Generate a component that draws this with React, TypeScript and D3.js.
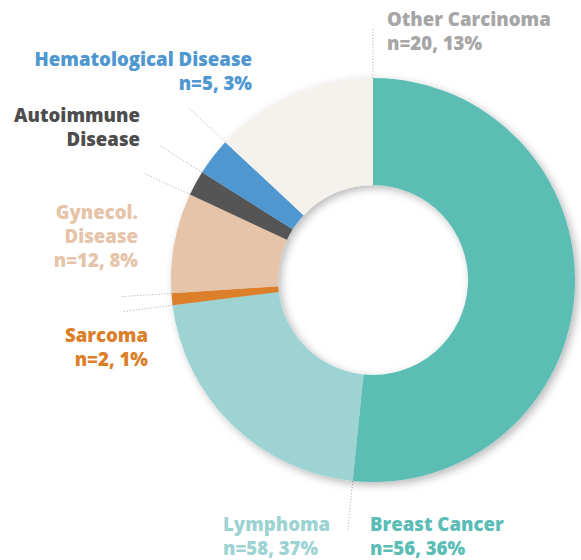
import React from "react";
import * as d3 from "d3";

const categories = ["Breast Cancer", "Lymphoma", "Sarcoma", "Gynecol. Disease", "Autoimmune Disease", "Hematological Disease", "Other Carcinoma"];
const sliceShare = [51.6, 21.4, 0.95, 8.0, 2.0, 3.0, 13.05];
const colors = ["#5bbdb5", "#9dd3d2", "#dc7f2b", "#e6c4a9", "#555555", "#4f97d1", "#f5f2ee"];
const labelColors = ["#5bbdb5", "#9dd3d2", "#dc7f2b", "#e6c4a9", "#4d4d4d", "#4f97d1", "#a6a6a6"];
const labelLines = [
  ["Breast Cancer", "n=56, 36%"],
  ["Lymphoma", "n=58, 37%"],
  ["Sarcoma", "n=2, 1%"],
  ["Gynecol.", "Disease", "n=12, 8%"],
  ["Autoimmune", "Disease"],
  ["Hematological Disease", "n=5, 3%"],
  ["Other Carcinoma", "n=20, 13%"],
];
// label anchor positions (x, first baseline y, text-anchor)
const labelPos: [number, number, string][] = [
  [370, 531, "start"],
  [223, 531, "start"],
  [148, 342, "end"],
  [138, 219, "end"],
  [140, 122, "end"],
  [252, 66, "end"],
  [387, 26, "start"],
];

const W = 581, H = 560;
const cx = 373, cy = 280, R = 202, r0 = 95, leadR = 253;

export default function App() {
  const pie = d3.pie<number>().sort(null).value((d) => d);
  const arcs = pie(sliceShare);
  const arcGen = d3.arc<d3.PieArcDatum<number>>().innerRadius(r0).outerRadius(R);
  const leaderAngles = [arcs[0].endAngle, arcs[2].startAngle, arcs[2].endAngle, arcs[3].endAngle, arcs[4].endAngle, arcs[5].endAngle, arcs[6].endAngle];
  const font = "'Open Sans', sans-serif";
  return (
    <svg width={W} height={H} style={{ position: "absolute", left: 0, top: 0, background: "#fff" }}>
      <defs>
        <filter id="sh" x="-20%" y="-20%" width="140%" height="140%">
          <feDropShadow dx="3" dy="3" stdDeviation="4" floodColor="#000" floodOpacity="0.28" />
        </filter>
      </defs>
      <g>
        {leaderAngles.map((a, i) => {
          const s = Math.sin(a), c = -Math.cos(a);
          return (
            <line key={i} x1={cx + R * s} y1={cy + R * c} x2={cx + leadR * s} y2={cy + leadR * c}
              stroke="#b5b5b5" strokeWidth={1} strokeDasharray="1.2,1.8" />
          );
        })}
      </g>
      <g transform={`translate(${cx},${cy})`} filter="url(#sh)">
        {arcs.map((a, i) => (
          <path key={i} d={arcGen(a) || ""} fill={colors[i]} />
        ))}
      </g>
      <g fontFamily={font} fontWeight={800} fontSize={18.6}>
        {labelLines.map((lines, i) => (
          <text key={i} x={labelPos[i][0]} y={labelPos[i][1]} textAnchor={labelPos[i][2]} fill={labelColors[i]}>
            {lines.map((l, j) => (
              <tspan key={j} x={labelPos[i][0]} y={labelPos[i][1] + j * 24}>{l}</tspan>
            ))}
          </text>
        ))}
      </g>
    </svg>
  );
}
